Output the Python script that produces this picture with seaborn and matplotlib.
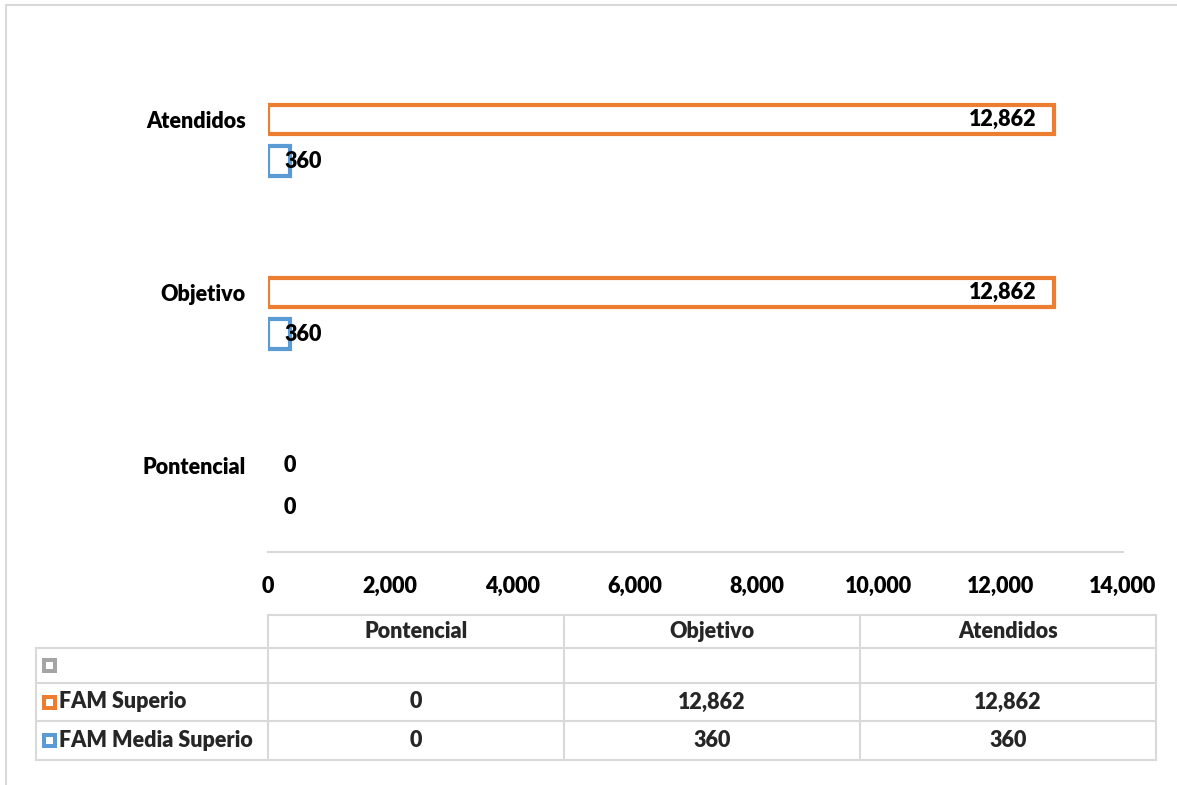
import numpy as np
import pandas as pd
import matplotlib
matplotlib.use("Agg")
import matplotlib.pyplot as plt
from matplotlib.lines import Line2D
from matplotlib.patches import Rectangle
import seaborn as sns

# ---------------- data ----------------
categories = ["Pontencial", "Objetivo", "Atendidos"]
series_names = ["(blank)", "FAM Superio", "FAM Media Superio"]
series_colors = ["#A5A5A5", "#ED7D31", "#5B9BD5"]
blank_values = [np.nan, np.nan, np.nan]
fam_superio = [0, 12862, 12862]
fam_media_superio = [0, 360, 360]
x_ticks = [0, 2000, 4000, 6000, 8000, 10000, 12000, 14000]

series_values = [blank_values, fam_superio, fam_media_superio]
rows = []
for name, vals in zip(series_names, series_values):
    for cat, v in zip(categories, vals):
        rows.append({"category": cat, "series": name, "value": v})
df = pd.DataFrame(rows)

# ---------------- style ----------------
sns.set_theme(style="white")
plt.rcParams['font.family'] = ['Lato', 'DejaVu Sans']
WT = 'heavy'
plt.rcParams['font.weight'] = WT
FS = 15.5
GRID = "#D9D9D9"

W, H = 1177, 785
fig = plt.figure(figsize=(W / 100, H / 100), dpi=100)
fig.patch.set_facecolor("white")

def fx(px):
    return px / W

def fy(py):
    return 1 - py / H

ax = fig.add_axes([fx(268), fy(552), fx(1123) - fx(268), fy(33) - fy(552)])

order = categories[::-1]  # top to bottom
sns.barplot(data=df, x="value", y="category", hue="series", order=order,
            hue_order=series_names, palette=series_colors, orient="h",
            width=0.72, gap=0.3, fill=False, linewidth=3.0, legend=False,
            errorbar=None, ax=ax)

# hide zero / empty bars, and label bars
for cont in ax.containers:
    for bar in cont:
        w = bar.get_width()
        if not np.isfinite(w):
            bar.set_visible(False)
            continue
        yc = bar.get_y() + bar.get_height() / 2
        if w == 0:
            bar.set_visible(False)
        label = f"{w:,.0f}"
        if w > 2000:
            ax.annotate(label, (w, yc), xytext=(-17, 0), textcoords="offset pixels",
                        ha="right", va="center", fontsize=FS, fontweight=WT, color="black")
        else:
            ax.annotate(label, (0, yc), xytext=(16, 0), textcoords="offset pixels",
                        ha="left", va="center", fontsize=FS, fontweight=WT, color="black")

ax.set_xlim(0, 14000)
ax.set_ylim(2.5, -0.5)
ax.set_xticks(x_ticks)
ax.set_xticklabels([f"{t:,}" for t in x_ticks], fontsize=FS, fontweight=WT)
ax.set_yticks(range(len(order)))
ax.set_yticklabels(order, fontsize=FS, fontweight=WT)
ax.tick_params(axis="both", length=0, colors="black")
ax.tick_params(axis="x", pad=17)
ax.tick_params(axis="y", pad=16)
ax.set_xlabel("")
ax.set_ylabel("")
for s in ["top", "right", "left"]:
    ax.spines[s].set_visible(False)
ax.spines["bottom"].set_color(GRID)
ax.spines["bottom"].set_linewidth(1.5)
ax.set_facecolor("none")

# ---------------- data table ----------------
col_x = [268, 564, 860, 1156]
left_x = 36
row_y = [615, 648, 683, 721, 760]

def hline(x0, x1, y):
    fig.add_artist(Line2D([fx(x0), fx(x1)], [fy(y), fy(y)], transform=fig.transFigure,
                          color=GRID, lw=1.5))

def vline(x, y0, y1):
    fig.add_artist(Line2D([fx(x), fx(x)], [fy(y0), fy(y1)], transform=fig.transFigure,
                          color=GRID, lw=1.5))

hline(col_x[0], col_x[-1], row_y[0])
for y in row_y[1:]:
    hline(left_x, col_x[-1], y)
vline(left_x, row_y[1], row_y[-1])
for x in col_x:
    vline(x, row_y[0], row_y[-1])

# header
for i, cat in enumerate(categories):
    cx = (col_x[i] + col_x[i + 1]) / 2
    cy = (row_y[0] + row_y[1]) / 2
    fig.text(fx(cx), fy(cy), cat, ha="center", va="center", fontsize=FS, fontweight=WT)

# rows
for r, (name, vals, color) in enumerate(zip(series_names, series_values, series_colors)):
    cy = (row_y[r + 1] + row_y[r + 2]) / 2
    ms = 15
    mx0 = 42
    fig.add_artist(Rectangle((fx(mx0), fy(cy + ms / 2)), fx(ms), ms / H,
                             transform=fig.transFigure, facecolor=color, edgecolor="none"))
    inner = 7
    fig.add_artist(Rectangle((fx(mx0 + (ms - inner) / 2), fy(cy + inner / 2)), fx(inner), inner / H,
                             transform=fig.transFigure, facecolor="white", edgecolor="none"))
    if name != "(blank)":
        fig.text(fx(mx0 + ms + 2), fy(cy), name, ha="left", va="center", fontsize=FS, fontweight=WT)
    for i, v in enumerate(vals):
        if np.isfinite(v):
            cx = (col_x[i] + col_x[i + 1]) / 2
            fig.text(fx(cx), fy(cy), f"{v:,.0f}", ha="center", va="center", fontsize=FS, fontweight=WT)

# outer frame (top and left visible)
fig.add_artist(Line2D([fx(6), fx(W)], [fy(5), fy(5)], transform=fig.transFigure, color=GRID, lw=1.5))
fig.add_artist(Line2D([fx(6), fx(6)], [fy(5), fy(H)], transform=fig.transFigure, color=GRID, lw=1.5))

fig.savefig("out.png", dpi=100, facecolor="white")
